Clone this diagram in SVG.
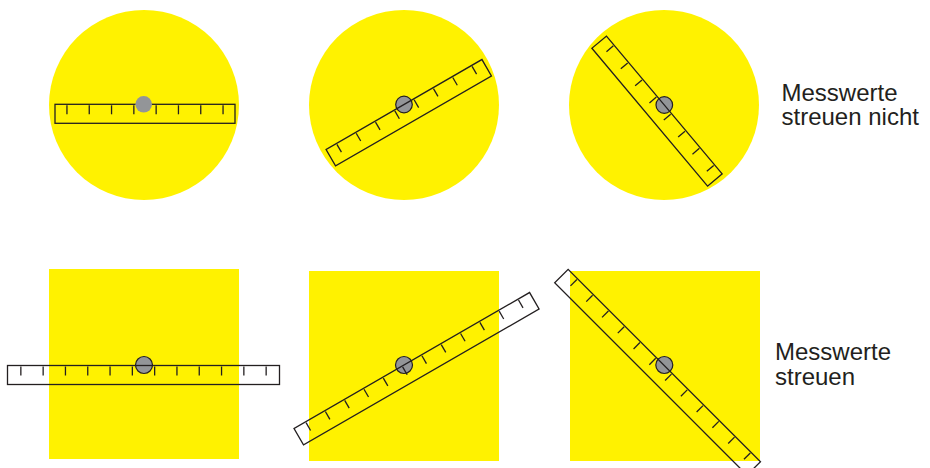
<svg xmlns="http://www.w3.org/2000/svg" width="930" height="468" viewBox="0 0 930 468">
<style>
.y{fill:#fff200;stroke:none}
.r{fill:none;stroke:#231f20;stroke-width:1.3}
.t{stroke:#231f20;stroke-width:1.3}
.d{fill:#939598;stroke:#231f20;stroke-width:1.2}
.d0{fill:#939598;stroke:none}
.lbl{font-family:"Liberation Sans",Arial,sans-serif;font-size:24px;fill:#231f20}
</style>
<defs>
<g id="ticks8">
<line class="t" x1="-78.05" y1="1" x2="-78.05" y2="10"/>
<line class="t" x1="-55.75" y1="1" x2="-55.75" y2="10"/>
<line class="t" x1="-33.45" y1="1" x2="-33.45" y2="10"/>
<line class="t" x1="-11.15" y1="1" x2="-11.15" y2="10"/>
<line class="t" x1="11.15" y1="1" x2="11.15" y2="10"/>
<line class="t" x1="33.45" y1="1" x2="33.45" y2="10"/>
<line class="t" x1="55.75" y1="1" x2="55.75" y2="10"/>
<line class="t" x1="78.05" y1="1" x2="78.05" y2="10"/>
</g>
<g id="short">
<rect class="r" x="-90" y="0" width="180" height="19"/>
<use href="#ticks8"/>
</g>
<g id="long">
<rect class="r" x="-136" y="0" width="272" height="19"/>
<use href="#ticks8"/>
<line class="t" x1="-100.35" y1="1" x2="-100.35" y2="10"/>
<line class="t" x1="-122.65" y1="1" x2="-122.65" y2="10"/>
<line class="t" x1="100.35" y1="1" x2="100.35" y2="10"/>
<line class="t" x1="122.65" y1="1" x2="122.65" y2="10"/>
</g>
</defs>

<g id="circle1">
<circle class="y" cx="144" cy="105" r="95"/>
<use href="#short" transform="translate(145,104.3)"/>
<circle class="d0" cx="143.7" cy="104.3" r="8.3"/>
</g>
<g id="circle2">
<circle class="y" cx="404" cy="105" r="95"/>
<circle class="d" cx="404" cy="104.5" r="8.3"/>
<use href="#short" transform="translate(404,104.5) rotate(-30)"/>
</g>
<g id="circle3">
<circle class="y" cx="664" cy="105" r="95"/>
<circle class="d" cx="664.3" cy="105" r="8.3"/>
<use href="#short" transform="translate(664.3,105) rotate(50)"/>
</g>
<g id="label1">
<text class="lbl" x="781.5" y="101">Messwerte</text>
<text class="lbl" x="781.5" y="125">streuen nicht</text>
</g>

<g id="square1">
<rect class="y" x="49" y="269" width="190" height="190"/>
<circle class="d" cx="144" cy="365" r="8.5"/>
<use href="#long" transform="translate(143.5,365.5)"/>
</g>
<g id="square2">
<rect class="y" x="309" y="271" width="190" height="190"/>
<circle class="d" cx="404" cy="365" r="8.5"/>
<use href="#long" transform="translate(404,365) rotate(-30) translate(9,0)"/>
</g>
<g id="square3">
<rect class="y" x="570" y="271" width="190" height="190"/>
<circle class="d" cx="664.3" cy="365" r="8.5"/>
<use href="#long" transform="translate(664.3,365.5) rotate(45)"/>
</g>
<g id="label2">
<text class="lbl" x="775" y="360">Messwerte</text>
<text class="lbl" x="775" y="385">streuen</text>
</g>
</svg>
